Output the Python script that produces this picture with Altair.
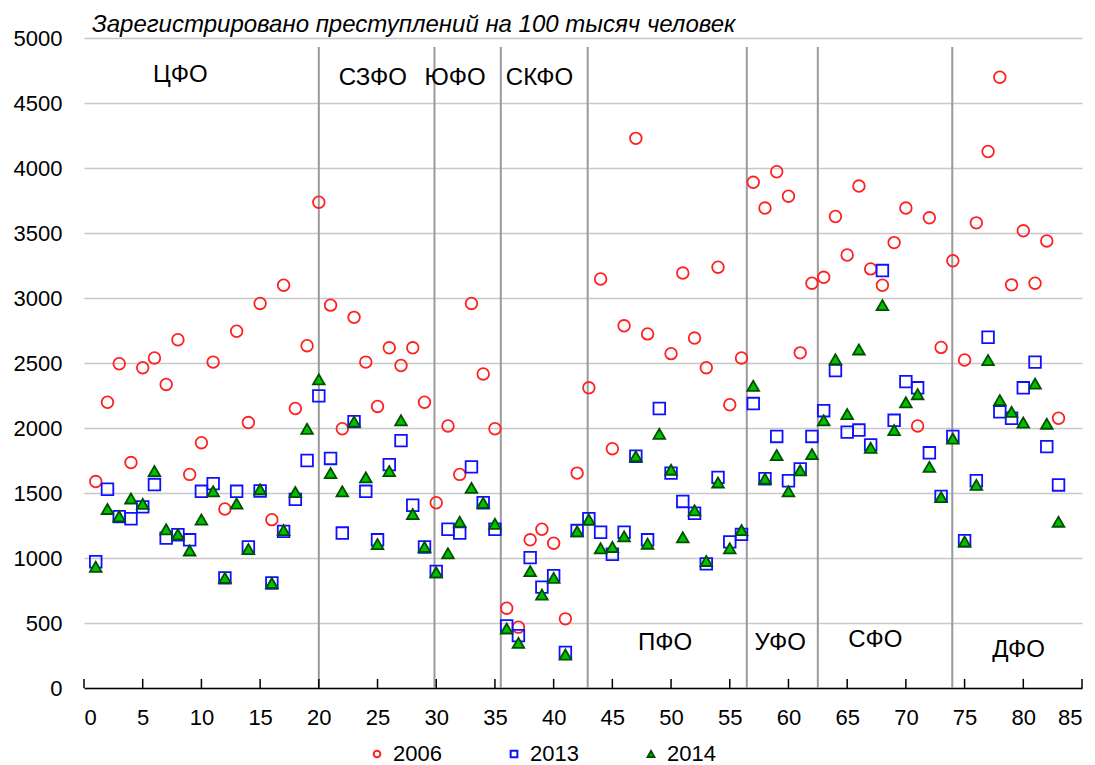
import altair as alt
import pandas as pd

regions = list(range(1, 84))
series_names = ["2006", "2013", "2014"]

y2006 = [1588, 2198, 2494, 1734, 2464, 2539, 2335, 2679, 1643, 1887,
         2507, 1377, 2744, 2042, 2958, 1295, 3098, 2150, 2633, 3737,
         2945, 1994, 2851, 2507, 2166, 2617, 2481, 2617, 2198, 1425,
         2016, 1643, 2958, 2416, 1994, 614, 468, 1140, 1221, 1114,
         532, 1653, 2309, 3146, 1841, 2786, 4228, 2724, None, 2572,
         3192, 2692, 2464, 3237, 2179, 2539, 3890, 3692, 3971, 3783,
         2578, 3114, 3159, 3627, 3331, 3861, 3224, 3098, 3426, 3692,
         2016, 3617, 2620, 3286, 2523, 3578, 4127, 4698, 3101, 3517,
         3114, 3439, 2075]
y2013 = [971, 1529, 1318, 1302, 1393, 1565, 1153, 1179, 1140, 1513,
         1572, 847, 1513, 1085, 1516, 808, 1205, 1451, 1750, 2247,
         1766, 1192, 2049, 1513, 1140, 1718, 1903, 1406, 1085, 896,
         1221, 1192, 1701, 1425, 1221, 477, 403, 1003, 776, 864,
         273, 1211, 1302, 1198, 1029, 1198, 1783, 1140, 2150, 1653,
         1435, 1344, 955, 1620, 1124, 1182, 2188, 1610, 1935, 1594,
         1685, 1935, 2133, 2442, 1968, 1984, 1870, 3211, 2059, 2357,
         2309, 1809, 1474, 1935, 1133, 1594, 2698, 2124, 2075, 2309,
         2507, 1857, 1562]
y2014 = [932, 1377, 1321, 1458, 1416, 1669, 1221, 1182, 1058, 1296,
         1513, 847, 1419, 1068, 1529, 808, 1214, 1507, 1994, 2374,
         1653, 1513, 2049, 1620, 1107, 1669, 2059, 1338, 1085, 890,
         1036, 1279, 1539, 1425, 1263, 458, 347, 899, 718, 847,
         257, 1205, 1296, 1075, 1085, 1166, 1783, 1110, 1955, 1679,
         1159, 1367, 977, 1581, 1075, 1214, 2325, 1610, 1792, 1513,
         1675, 1799, 2059, 2529, 2107, 2604, 1848, 2945, 1984, 2198,
         2260, 1701, 1468, 1919, 1127, 1562, 2523, 2214, 2124, 2042,
         2341, 2033, 1279]

separators = [20.0, 29.85, 35.5, 42.9, 56.45, 62.5, 73.95]
district_names = ["ЦФО", "СЗФО", "ЮФО", "СКФО", "ПФО", "УФО", "СФО", "ДФО"]
district_x = [8.2, 24.6, 31.6, 38.8, 49.5, 59.3, 67.4, 79.6]
district_y = [4715, 4692, 4692, 4692, 346, 346, 369, 292]

x_ticks = list(range(0, 86, 5))
y_ticks = list(range(0, 5001, 500))

rows = []
for name, vals in zip(series_names, [y2006, y2013, y2014]):
    for r, v in zip(regions, vals):
        if v is not None:
            rows.append({"region": r, "value": v, "series": name})
df = pd.DataFrame(rows)

FONT = "Liberation Sans, Arial, sans-serif"

xscale = alt.Scale(domain=[0, 85], nice=False, zero=False)
yscale = alt.Scale(domain=[0, 5000], nice=False)

xaxis = alt.Axis(values=x_ticks, title=None, grid=False, ticks=False,
                 domainColor="black", domainWidth=1.5,
                 labelFont=FONT, labelFontSize=22, labelColor="black",
                 labelPadding=19)
yaxis = alt.Axis(values=y_ticks, title=None, domain=False, ticks=False, format="d",
                 grid=True, gridColor="#C8C8C8", gridWidth=1.5,
                 labelFont=FONT, labelFontSize=22, labelColor="black",
                 labelPadding=22, minExtent=76, maxExtent=76)

points = alt.Chart(df).mark_point(filled=True, opacity=1, strokeWidth=1.8, size=135).encode(
    x=alt.X("region:Q", scale=xscale, axis=xaxis),
    y=alt.Y("value:Q", scale=yscale, axis=yaxis),
    shape=alt.Shape("series:N",
                    scale=alt.Scale(domain=series_names, range=["circle", "square", "triangle-up"]),
                    title=None),
    fill=alt.Fill("series:N",
                  scale=alt.Scale(domain=series_names, range=["transparent", "transparent", "#00C000"]),
                  title=None),
    stroke=alt.Stroke("series:N",
                      scale=alt.Scale(domain=series_names, range=["#FF2020", "#1010FF", "#005000"]),
                      title=None),
)

sep_df = pd.DataFrame({"s": separators})
seps = alt.Chart(sep_df).mark_rule(color="#9A9A9A", strokeWidth=2).encode(
    x=alt.X("s:Q", scale=xscale, axis=xaxis),
    y=alt.Y(datum=0, scale=yscale, axis=yaxis),
    y2=alt.datum(4930),
)

tick_df = pd.DataFrame({"t": x_ticks})
tick_marks = alt.Chart(tick_df).mark_rule(color="black", strokeWidth=1.5).encode(
    x=alt.X("t:Q", scale=xscale, axis=xaxis),
    y=alt.Y(datum=0, scale=yscale, axis=yaxis),
    y2=alt.datum(70),
)

lab_df = pd.DataFrame({"name": district_names, "x": district_x, "y": district_y})
labels = alt.Chart(lab_df).mark_text(font=FONT, fontSize=24, color="black").encode(
    x=alt.X("x:Q", scale=xscale, axis=xaxis),
    y=alt.Y("y:Q", scale=yscale, axis=yaxis),
    text="name:N",
)

chart = alt.layer(seps, tick_marks, points, labels).properties(
    width=998,
    height=650,
    padding={"left": 0, "top": 5, "right": 0, "bottom": 0},
    title=alt.TitleParams(
        text="Зарегистрировано преступлений на 100 тысяч человек",
        anchor="start", font=FONT, fontSize=24, fontStyle="italic",
        fontWeight="normal", color="black", dx=8, offset=-10, frame="group",
    ),
    background="white",
).configure_view(stroke=None).configure_legend(
    orient="none", legendX=282, legendY=705, direction="horizontal",
    columnPadding=61, labelFont=FONT, labelFontSize=22, labelColor="black",
    symbolSize=45, symbolStrokeWidth=2, labelOffset=5, title=None,
)

chart.save("out.html", embed_options={"renderer": "svg", "actions": False})
